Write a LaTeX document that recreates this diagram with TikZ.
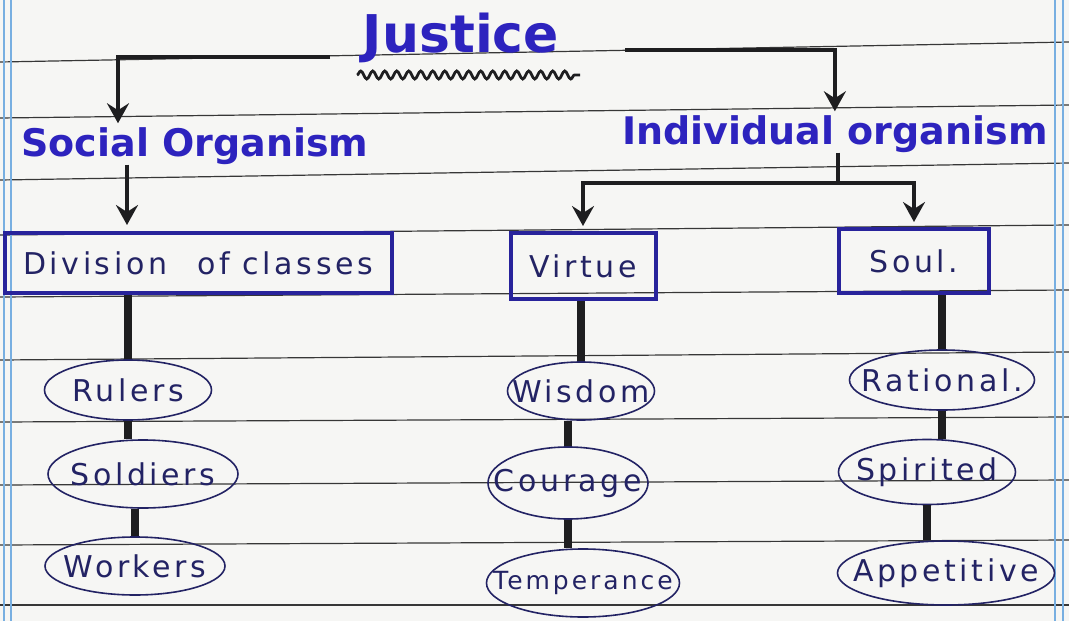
\documentclass[tikz,border=0pt]{standalone}
\usepackage{fontspec}
\setmainfont{DejaVu Sans}
\newfontfamily\handfont[LetterSpace=12]{DejaVu Sans}
\usetikzlibrary{shapes.geometric,arrows.meta,decorations.pathmorphing}

\definecolor{ink}{RGB}{45,35,190}
\definecolor{penblue}{RGB}{40,35,155}
\definecolor{navy}{RGB}{35,35,100}
\definecolor{marker}{RGB}{30,30,32}
\definecolor{rulegray}{RGB}{55,55,55}
\definecolor{marginblue}{RGB}{120,175,225}
\definecolor{paper}{RGB}{246,246,244}

\newcommand{\ovaltext}[1]{\makebox[0pt]{#1}}

\tikzstyle{title} = [font={\fontsize{52}{58}\selectfont\bfseries}, text=ink, inner sep=0pt]
\tikzstyle{branch} = [font={\fontsize{38}{44}\selectfont\bfseries}, text=ink, inner sep=0pt]
\tikzstyle{box} = [draw=penblue, line width=4pt, font={\handfont\fontsize{30}{36}\selectfont}, text=navy, inner sep=0pt]
\tikzstyle{oval} = [ellipse, draw=navy, line width=1.6pt, inner sep=0pt, font={\handfont\fontsize{30}{36}\selectfont}, text=navy]
\tikzstyle{stem} = [draw=marker, line width=7.5pt]
\tikzstyle{pointer} = [draw=marker, line width=4.5pt, -{Stealth[length=20pt,width=22pt,inset=7pt]}]
\tikzstyle{ruled} = [draw=rulegray, line width=1.2pt]
\tikzstyle{margin} = [draw=marginblue, line width=1.2pt]

\begin{document}
\begin{tikzpicture}[x=1pt,y=-1pt]

% paper
\useasboundingbox (0,0) rectangle (1069,621);
\fill[paper] (0,0) rectangle (1069,621);
\foreach \l/\r in {62/42, 118/105, 180/163, 235/225, 297/290, 360/352, 422/417, 485/480, 545/540, 605/605}
  \draw[ruled] (0,\l) -- (1069,\r);
\foreach \x in {4,11,1055,1063}
  \draw[margin] (\x,0) -- (\x,621);

\node [title] (justice) at (461,38) {Justice};
\node [branch] (social) at (195,146) {Social Organism};
\node [branch, anchor=west] (individual) at (622,134) {Individual organism};

\node [box, minimum width=387pt, minimum height=60pt] (division) at (198,263) {Division\quad of classes};
\node [box, minimum width=145pt, minimum height=66pt] (virtue) at (583,266) {Virtue};
\node [box, minimum width=150pt, minimum height=64pt] (soul) at (914,261) {Soul.};

\node [oval, minimum width=167pt, minimum height=60pt] (rulers) at (128,390) {\ovaltext{Rulers}};
\node [oval, minimum width=190pt, minimum height=68pt] (soldiers) at (143,474) {\ovaltext{Soldiers}};
\node [oval, minimum width=180pt, minimum height=58pt] (workers) at (135,566) {\ovaltext{Workers}};
\node [oval, minimum width=147pt, minimum height=58pt] (wisdom) at (581,391) {\ovaltext{Wisdom}};
\node [oval, minimum width=160pt, minimum height=72pt] (courage) at (568,483) {\ovaltext{Courage}};
\node [oval, minimum width=193pt, minimum height=68pt, font={\handfont\fontsize{25}{30}\selectfont}] (temperance) at (583,583) {\ovaltext{Temperance}};
\node [oval, minimum width=185pt, minimum height=60pt] (rational) at (942,380) {\ovaltext{Rational.}};
\node [oval, minimum width=177pt, minimum height=65pt] (spirited) at (927,472) {\ovaltext{Spirited}};
\node [oval, minimum width=217pt, minimum height=64pt] (appetitive) at (946,573) {\ovaltext{Appetitive}};

\coordinate (jl) at (330,57);
\coordinate (jr) at (625,50);
\coordinate (ldrop) at (118,0);
\coordinate (sdrop) at (127,0);
\coordinate (fork) at (838,183);

\draw[decorate, decoration={snake, amplitude=4pt, segment length=12pt}, draw=marker, line width=2.8pt]
  (357,75) -- (580,75);

\draw[pointer] (jl) -| ([yshift=4pt]ldrop |- social.north);
\draw[pointer] (jr) -| ([yshift=4pt]individual.north);
\draw[pointer] (sdrop |- social.south) -- ([yshift=6pt]sdrop |- division.north);
\draw[draw=marker, line width=4.5pt] (fork |- individual.south) -- (fork);
\draw[pointer] (fork) -| ([yshift=5pt]virtue.north);
\draw[pointer] (fork) -| ([yshift=5pt]soul.north);

\draw[stem] (rulers |- division.south) -- (rulers.north);
\draw[stem] (rulers.south) -- (rulers.south |- soldiers.north);
\draw[stem] (workers |- soldiers.south) -- (workers.north);
\draw[stem] (wisdom |- virtue.south) -- (wisdom.north);
\draw[stem] (courage |- wisdom.south) -- (courage.north);
\draw[stem] (courage.south) -- (courage.south |- temperance.north);
\draw[stem] (rational |- soul.south) -- (rational.north);
\draw[stem] (rational.south) -- (rational.south |- spirited.north);
\draw[stem] (spirited.south) -- (spirited.south |- appetitive.north);

\end{tikzpicture}
\end{document}
